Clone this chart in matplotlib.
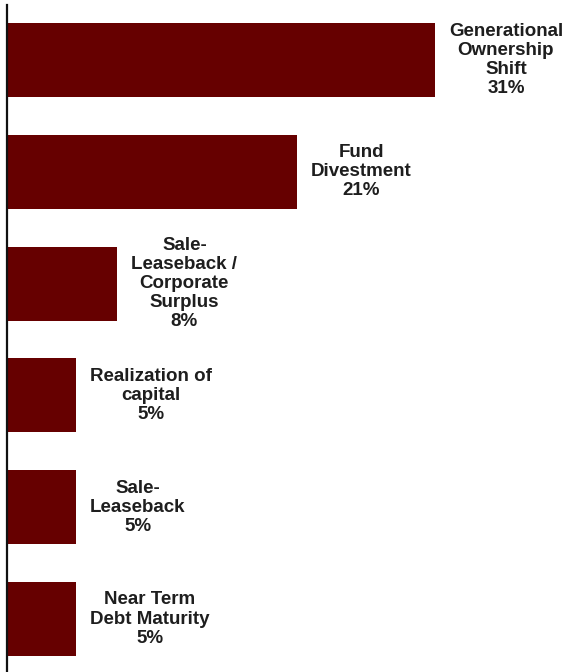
import matplotlib
matplotlib.use("Agg")
import matplotlib.pyplot as plt

categories = ["Generational\nOwnership\nShift", "Fund\nDivestment",
              "Sale-\nLeaseback /\nCorporate\nSurplus", "Realization of\ncapital",
              "Sale-\nLeaseback", "Near Term\nDebt Maturity"]
values = [31, 21, 8, 5, 5, 5]
value_labels = ["31%", "21%", "8%", "5%", "5%", "5%"]

W, H = 568, 672
fig = plt.figure(figsize=(W / 100, H / 100), dpi=100)
fig.patch.set_facecolor("white")
ax = fig.add_axes([7 / W, 0, (W - 7) / W, 667 / H])

pos = list(range(len(values)))
ax.barh(pos, values, height=0.662, color="#660000", edgecolor="none")

ax.set_xlim(0, (W - 7) / 13.8)
ax.set_ylim(5.474, -0.492)

for p, v, c, lab in zip(pos, values, categories, value_labels):
    ax.annotate(c + "\n" + lab, xy=(v, p), xytext=(14, 0), textcoords="offset pixels",
                ha="left", va="center", multialignment="center",
                fontsize=13.5, fontweight="bold", color="#1e1e1e",
                family=["Liberation Sans", "DejaVu Sans"], linespacing=1.16)

for s in ["top", "right", "bottom"]:
    ax.spines[s].set_visible(False)
ax.spines["left"].set_linewidth(1.6)
ax.spines["left"].set_color("#111111")
ax.set_xticks([])
ax.set_yticks([])

fig.savefig("out.png", dpi=100, facecolor="white")
